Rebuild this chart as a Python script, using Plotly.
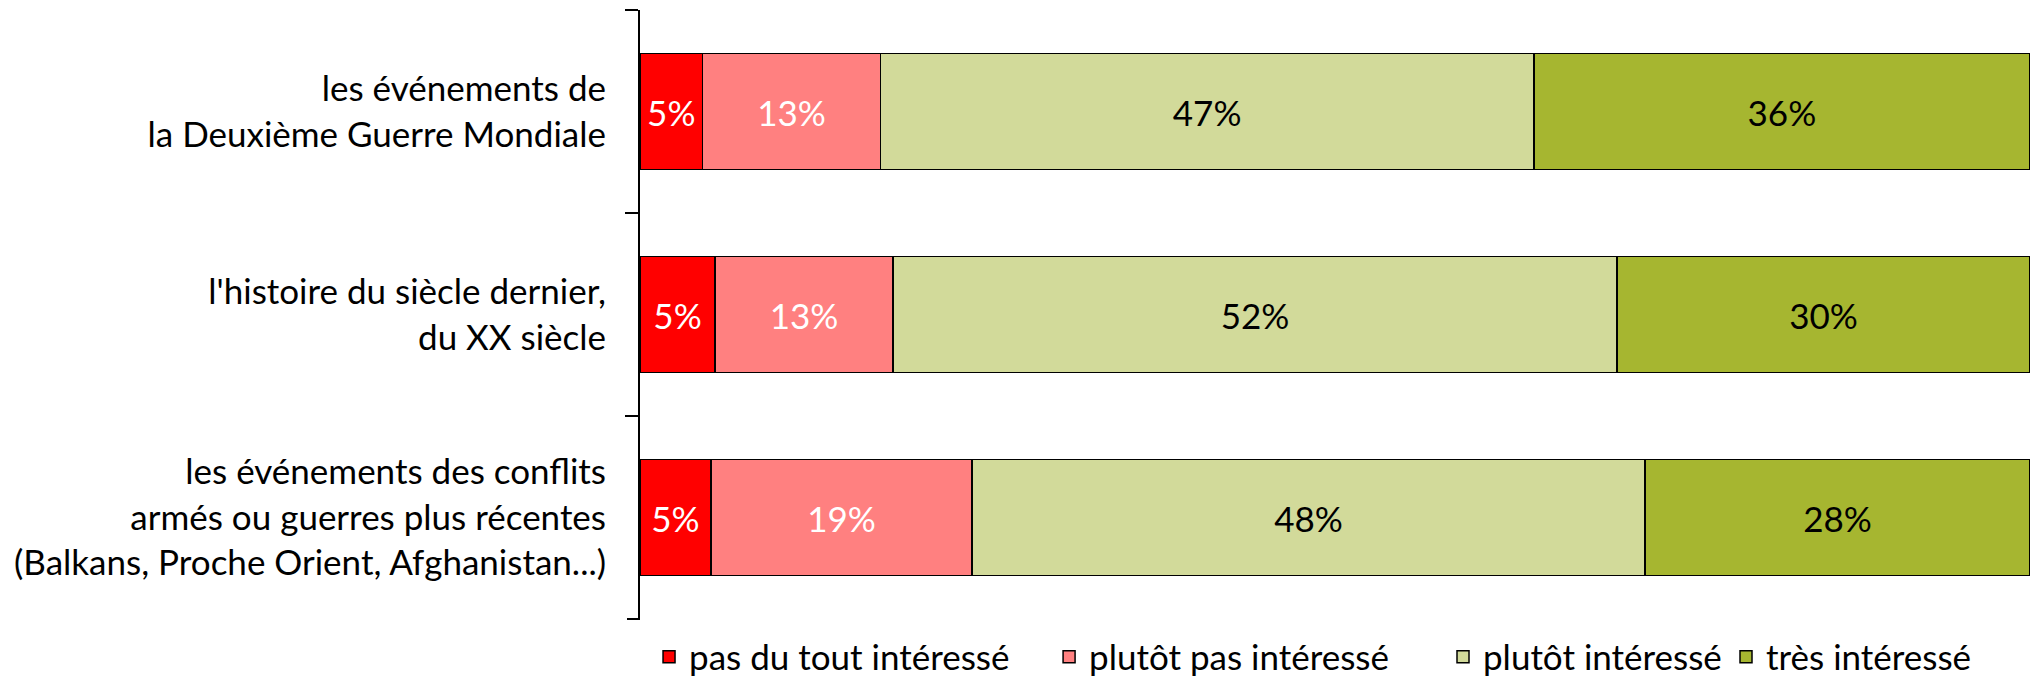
import plotly.graph_objects as go

categories = [
    "les événements de<br>la Deuxième Guerre Mondiale",
    "l'histoire du siècle dernier,<br>du XX siècle",
    "les événements des conflits<br>armés ou guerres plus récentes<br>(Balkans, Proche Orient, Afghanistan...)",
]
series_names = ["pas du tout intéressé", "plutôt pas intéressé", "plutôt intéressé", "très intéressé"]
pas_du_tout = [4.5, 5.4, 5.1]
plutot_pas = [12.8, 12.8, 18.8]
plutot = [47.0, 52.1, 48.4]
tres = [35.7, 29.7, 27.7]

series_values = [pas_du_tout, plutot_pas, plutot, tres]
colors = ["#FF0000", "#FF8080", "#D2DA9A", "#A6B630"]
text_colors = ["white", "white", "black", "black"]

FONT = "Lato"
FS = 35
legend_x = [0.0065, 0.2943, 0.5777, 0.7813]
legend_ids = ["legend", "legend2", "legend3", "legend4"]

fig = go.Figure()
for name, vals, col, tcol, lid in zip(series_names, series_values, colors, text_colors, legend_ids):
    fig.add_trace(go.Bar(
        y=categories, x=vals, name=name, orientation="h",
        marker=dict(color=col, line=dict(color="black", width=1.5)),
        texttemplate="%{x:.0f}%", textposition="inside", insidetextanchor="middle",
        textangle=0, constraintext="none",
        insidetextfont=dict(color=tcol, size=FS, family=FONT),
        hoverinfo="skip", legend=lid,
    ))

legends = {}
for lid, lx in zip(legend_ids, legend_x):
    legends[lid] = dict(orientation="h", x=lx, xanchor="left", xref="paper",
                        y=20 / 677, yanchor="middle", yref="container",
                        font=dict(size=FS, family=FONT, color="black"),
                        bgcolor="rgba(0,0,0,0)")

PLOT_W = 2030 - 640
fig.update_layout(
    barmode="stack",
    width=2030, height=677,
    margin=dict(l=640, r=0, t=10, b=58),
    paper_bgcolor="white", plot_bgcolor="white",
    bargap=0.43,
    font=dict(family=FONT, size=FS, color="black"),
    showlegend=True,
    xaxis=dict(range=[0, 100], showgrid=False, zeroline=False, showticklabels=False,
               ticks="", showline=False, fixedrange=True),
    yaxis=dict(autorange="reversed", showline=True, linecolor="black", linewidth=2,
               ticks="outside", ticklen=13, tickwidth=2, tickcolor="black",
               tickson="boundaries", ticklabelstandoff=25, showgrid=False,
               tickfont=dict(size=FS, family=FONT)),
    **legends,
)
# closing tick at the bottom end of the category axis
fig.add_shape(type="line", xref="paper", yref="paper",
              x0=-13 / PLOT_W, x1=0, y0=0, y1=0,
              line=dict(color="black", width=2), layer="above")

fig.write_html("out.html", config={"displayModeBar": False},
               post_script="document.body.style.margin='0';document.body.style.overflow='hidden';")
